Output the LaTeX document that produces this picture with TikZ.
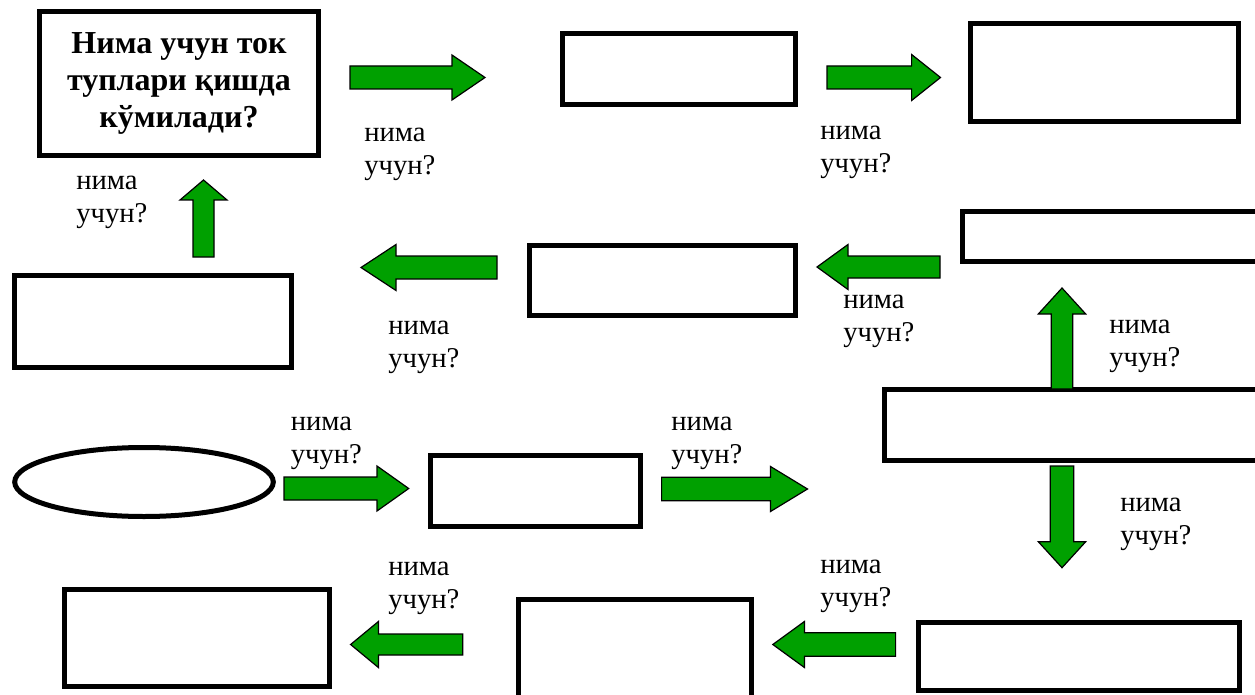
\documentclass[tikz,border=0pt]{standalone}
\usepackage{fontspec}
\setmainfont{Liberation Serif}
\usetikzlibrary{shapes.geometric}
\definecolor{arrowgreen}{RGB}{0,160,0}
\newdimen\px \px=0.75pt
\tikzset{
  box/.style={draw=black, line width=5\px, fill=white, inner sep=0pt, align=center},
  oval/.style={ellipse, draw=black, line width=5\px, fill=white, inner sep=0pt},
  blockarrow/.style={fill=arrowgreen, draw=black, line width=1.2\px, line join=miter},
  % anchor at the baseline of the second line
  why/.style={anchor=base west, inner sep=0pt, align=left, font=\fontsize{21.5}{24.75}\selectfont},
  titletext/.style={font=\fontsize{24}{27.6}\selectfont\bfseries},
}
% horizontal block arrow: tail x, head-base x, tip x, centre y, shaft half, head half
\newcommand\harrow[6]{%
  \draw[blockarrow] (#1,#4-#5) -- (#2,#4-#5) -- (#2,#4-#6) -- (#3,#4)
    -- (#2,#4+#6) -- (#2,#4+#5) -- (#1,#4+#5) -- cycle;}
% vertical block arrow: tail y, head-base y, tip y, centre x, shaft half, head half
\newcommand\varrow[6]{%
  \draw[blockarrow] (#4-#5,#1) -- (#4-#5,#2) -- (#4-#6,#2) -- (#4,#3)
    -- (#4+#6,#2) -- (#4+#5,#2) -- (#4+#5,#1) -- cycle;}
\begin{document}
\begin{tikzpicture}[x=0.75pt, y=-0.75pt]
\useasboundingbox (0,0) rectangle (1255,695);
\clip (0,0) rectangle (1255,695);

% boxes
\node[box, minimum width=279\px, minimum height=144\px, titletext] (b1) at (179,83.5)
  {Нима учун ток\\туплари қишда\\кўмилади?};
\node[box, minimum width=232.5\px, minimum height=71\px] (b2) at (678.75,69.5) {};
\node[box, minimum width=268\px, minimum height=98\px] (b3) at (1104.5,72.5) {};
\node[box, minimum width=312.5\px, minimum height=50\px] (b4) at (1118.75,236.5) {};
\node[box, minimum width=266.5\px, minimum height=70\px] (b5) at (662.25,280.5) {};
\node[box, minimum width=277\px, minimum height=91.5\px] (b6) at (153,321.25) {};
\node[box, minimum width=390.5\px, minimum height=71\px] (b7) at (1079.75,425) {};
\node[oval, minimum width=258.6\px, minimum height=69\px] (e1) at (144,482) {};
\node[box, minimum width=210\px, minimum height=70.5\px] (b8) at (535,490.75) {};
\node[box, minimum width=321.5\px, minimum height=68\px] (b9) at (1078.75,656.5) {};
\node[box, minimum width=233\px, minimum height=120.5\px] (b10) at (634.5,659.75) {};
\node[box, minimum width=265.5\px, minimum height=97.5\px] (b11) at (196.75,637.75) {};

% block arrows
\harrow{350}{452}{485}{77.5}{11.5}{22.5}
\harrow{827}{911.6}{940.5}{77.5}{11.5}{23}
\varrow{257}{200}{180}{203.5}{10.5}{23.5}
\harrow{497}{396}{361}{267.5}{11.5}{23}
\harrow{940}{848}{817}{267}{11}{22.5}
\varrow{389}{314}{288}{1062}{10.7}{23.7}
\harrow{284}{377}{408.7}{488.5}{11.5}{22.5}
\harrow{661.6}{770.5}{807.5}{489}{11.8}{22.5}
\varrow{466}{541.7}{567.7}{1062}{11.7}{23.7}
\harrow{895.6}{804.4}{772.8}{644.5}{11.7}{23}
\harrow{462.7}{378.4}{350.6}{644.5}{10.5}{23}

% labels
\node[why] (l1) at (364,175) {нима\\учун?};
\node[why] (l2) at (820,173) {нима\\учун?};
\node[why] (l3) at (76,223) {нима\\учун?};
\node[why] (l4) at (388,367) {нима\\учун?};
\node[why] (l5) at (843,341) {нима\\учун?};
\node[why] (l6) at (1109,366) {нима\\учун?};
\node[why] (l7) at (290.5,463) {нима\\учун?};
\node[why] (l8) at (671,463) {нима\\учун?};
\node[why] (l9) at (1120,544) {нима\\учун?};
\node[why] (l10) at (820,606) {нима\\учун?};
\node[why] (l11) at (388,608) {нима\\учун?};
\end{tikzpicture}
\end{document}
